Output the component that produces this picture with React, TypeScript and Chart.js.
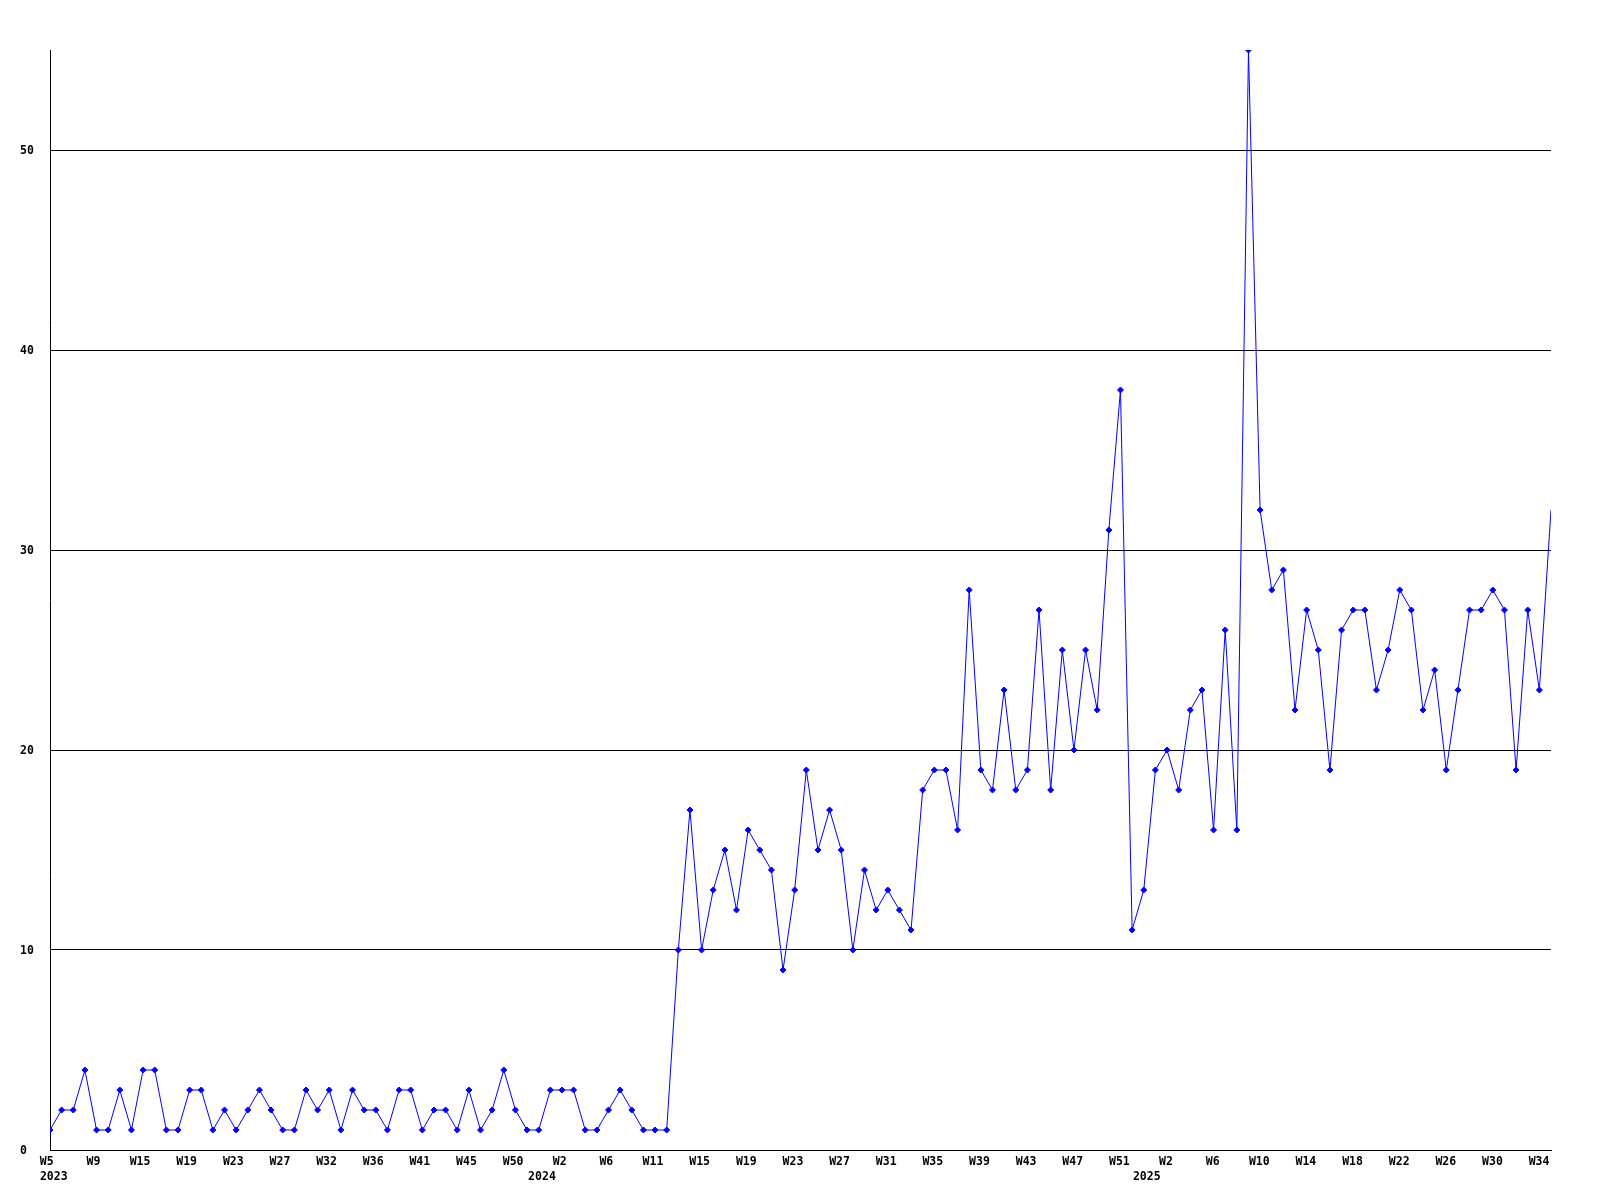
import React, { useEffect, useRef } from 'react';
import { Chart, registerables } from 'chart.js';

Chart.register(...registerables);

// Weekly counts, one per week starting 2023 W5
const weeklyCounts: number[] = [
  1, 2, 2, 4, 1, 1, 3, 1, 4, 4, 1, 1, 3, 3, 1, 2, 1, 2, 3, 2, 1, 1, 3, 2, 3, 1, 3, 2, 2, 1, 3,
  3, 1, 2, 2, 1, 3, 1, 2, 4, 2, 1, 1, 3, 3, 3, 1, 1, 2, 3, 2, 1, 1, 1,
  10, 17, 10, 13, 15, 12, 16, 15, 14, 9, 13, 19, 15, 17, 15, 10, 14, 12, 13, 12, 11, 18, 19, 19,
  16, 28, 19, 18, 23, 18, 19, 27, 18, 25, 20, 25, 22, 31, 38, 11, 13, 19, 20, 18, 22, 23, 16, 26, 16,
  55, 32, 28, 29, 22, 27, 25, 19, 26, 27, 27, 23, 25, 28, 27, 22, 24, 19, 23, 27, 27, 28, 27, 19, 27, 23,
  32,
];

const weekTickLabels: string[] = [
  'W5', 'W9', 'W15', 'W19', 'W23', 'W27', 'W32', 'W36', 'W41', 'W45', 'W50',
  'W2', 'W6', 'W11', 'W15', 'W19', 'W23', 'W27', 'W31', 'W35', 'W39', 'W43', 'W47', 'W51',
  'W2', 'W6', 'W10', 'W14', 'W18', 'W22', 'W26', 'W30', 'W34',
];

const yearLabels: string[] = ['2023', '2024', '2025'];

const yTickValues: number[] = [0, 10, 20, 30, 40, 50];

export default function App() {
  const canvasRef = useRef<HTMLCanvasElement | null>(null);

  useEffect(() => {
    const canvas = canvasRef.current;
    if (!canvas) return;

    const font = { family: '"DejaVu Sans Mono", "Liberation Mono", monospace', size: 11.5, weight: 'bold' as const, lineHeight: 1.25 };
    const weekTickStart = -0.28;
    const weekTickStep = 4.008;
    const yearTickPos = [0.32, 42.28, 94.26];
    let xTickTexts: (string | string[])[] = [];

    const chart = new Chart(canvas, {
      type: 'line',
      data: {
        datasets: [
          {
            data: weeklyCounts.map((v, i) => ({ x: i, y: v })),
            borderColor: '#0000ff',
            backgroundColor: '#0000ff',
            borderWidth: 1,
            tension: 0,
            fill: false,
            pointStyle: 'rectRot',
            pointRadius: (c: any) => (c.dataIndex === weeklyCounts.length - 1 ? 0 : 3),
            pointBorderWidth: 1,
            pointBorderColor: '#0000ff',
            pointBackgroundColor: '#0000ff',
          },
        ],
      },
      options: {
        animation: false,
        responsive: false,
        maintainAspectRatio: false,
        events: [],
        layout: { padding: { left: 20, top: 50, right: 49, bottom: 0 } },
        plugins: {
          legend: { display: false },
          tooltip: { enabled: false },
          title: { display: false },
        },
        scales: {
          x: {
            type: 'linear',
            min: 0,
            max: weeklyCounts.length - 1,
            bounds: 'data',
            grid: { display: false, drawTicks: false },
            border: { display: true, color: '#000', width: 1 },
            afterBuildTicks: (scale: any) => {
              const items: { value: number; text: string | string[] }[] = [];
              weekTickLabels.forEach((t, i) => items.push({ value: weekTickStart + i * weekTickStep, text: t }));
              yearLabels.forEach((y, i) => items.push({ value: yearTickPos[i], text: ['', y] }));
              items.sort((a, b) => a.value - b.value);
              xTickTexts = items.map((it) => it.text);
              scale.ticks = items.map((it) => ({ value: it.value }));
            },
            afterFit: (scale: any) => {
              scale.height = 50;
            },
            ticks: {
              autoSkip: false,
              maxRotation: 0,
              minRotation: 0,
              padding: 5,
              color: '#000',
              font,
              callback: (_v: any, index: number) => xTickTexts[index],
            },
          },
          y: {
            type: 'linear',
            min: 0,
            max: 55,
            bounds: 'data',
            grid: { display: true, color: '#000', lineWidth: 1, drawTicks: false },
            border: { display: true, color: '#000', width: 1 },
            afterBuildTicks: (scale: any) => {
              scale.ticks = yTickValues.map((v) => ({ value: v }));
            },
            afterFit: (scale: any) => {
              scale.width = 30;
            },
            ticks: {
              crossAlign: 'far',
              padding: 0,
              labelOffset: 1,
              color: '#000',
              font,
              callback: (v: any) => String(v),
            },
          },
        },
      } as any,
    });

    return () => {
      chart.destroy();
    };
  }, []);

  return (
    <div style={{ position: 'absolute', left: 0, top: 0, width: 1600, height: 1200, background: '#fff' }}>
      <canvas ref={canvasRef} width={1600} height={1200} style={{ display: 'block', width: 1600, height: 1200 }} />
    </div>
  );
}
